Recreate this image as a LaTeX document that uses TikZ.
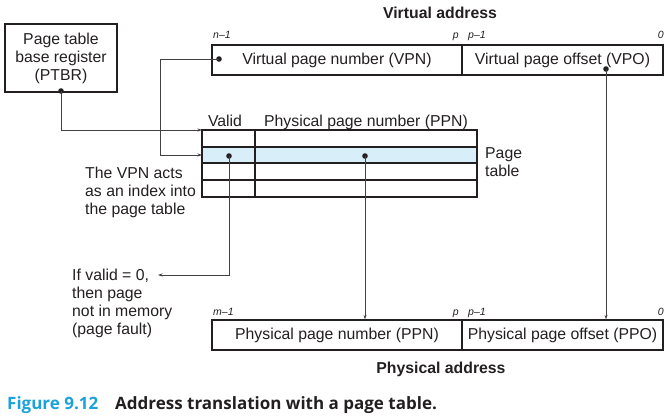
\documentclass[tikz,border=0pt]{standalone}
\usepackage{fontspec}
\setmainfont{Liberation Sans}
\newfontfamily\capfont{Open Sans}
\usepackage{xcolor}
\usepackage{tikz}
\usetikzlibrary{calc}
\usetikzlibrary{arrows.meta}
\definecolor{ink}{HTML}{231F20}
\definecolor{rowblue}{HTML}{D8EEF8}
\definecolor{capblue}{HTML}{1BA1DB}

\begin{document}
\begin{tikzpicture}[x=1pt,y=-1pt,
		txt/.style={font=\fontsize{15.8}{18}\selectfont,text=ink,inner sep=0pt},
		regbox/.style={txt,draw=ink,line width=1.1pt},
		bitno/.style={font=\fontsize{10.5}{12}\selectfont\itshape,text=ink,inner sep=0pt},
		title/.style={font=\fontsize{15.8}{18}\selectfont\bfseries,text=ink,inner sep=0pt},
		wire/.style={draw=ink!85,line width=0.7pt},
		tip/.style={wire,-{Stealth[length=4.5pt,width=3pt]}}]
		\def\cz{2.8pt}
		\useasboundingbox (0,0) rectangle (670,420);
		% registers
		\node[regbox,align=center,minimum width=112pt,minimum height=68pt] (ptbr) at (61,58)
			{Page table\\base register\\(PTBR)};
		\node[regbox,minimum width=250pt,minimum height=30pt] (vpn) at (337,60) {Virtual page number (VPN)};
		\node[regbox,minimum width=201pt,minimum height=30pt] (vpo) at (562.5,60) {Virtual page offset (VPO)};
		\node[regbox,minimum width=250pt,minimum height=30pt] (ppn) at (337,335) {Physical page number (PPN)};
		\node[regbox,minimum width=201pt,minimum height=30pt] (ppo) at (562.5,335) {Physical page offset (PPO)};
		\node[title] (va) at (440,13) {Virtual address};
		\node[title] (pa) at (441,369) {Physical address};
		% bit numbers
		\node[bitno,anchor=base west] (vhi) at (213,39) {n--1};
		\node[bitno,anchor=base east] (vp) at (459,39) {p};
		\node[bitno,anchor=base west] (vpm) at (468,39) {p--1};
		\node[bitno,anchor=base east] (vlo) at (664,39) {0};
		\node[bitno,anchor=base west] (phi) at (213,315) {m--1};
		\node[bitno,anchor=base east] (pp) at (459,315) {p};
		\node[bitno,anchor=base west] (ppm) at (468,315) {p--1};
		\node[bitno,anchor=base east] (plo) at (664,315) {0};
		% page table
		\fill [rowblue] (202,147) rectangle (477,163);
		\draw [ink,line width=1.1pt] (202,130) rectangle (477,197)
			  (202,147) -- (477,147)
			  (202,163) -- (477,163)
			  (202,180) -- (477,180)
			  (255,130) -- (255,197);
		\node[txt,anchor=base] (valid) at (225,127) {Valid};
		\node[txt,anchor=base] (ppnhead) at (366,127) {Physical page number (PPN)};
		\node[txt,align=left,anchor=north west] (ptlabel) at (485,147) {Page\\table};
		\node[txt,align=left,anchor=north west] (index) at (85,167) {The VPN acts\\as an index into\\the page table};
		\node[txt,align=left,anchor=north west] (fault) at (72,269) {If valid = 0,\\then page\\not in memory\\(page fault)};
		% dots and ends
		\coordinate (ptbrdot) at (61,91);
		\coordinate (vpndot) at (219,59);
		\coordinate (vpodot) at (606,69);
		\coordinate (validdot) at (229,156);
		\coordinate (ppndot) at (365,156);
		\coordinate (tabtop) at (202,130);
		\coordinate (tabrow) at (202,155);
		\coordinate (bend) at (160,59);
		\coordinate (faultend) at (158,275);
		\fill [ink] (ptbrdot) circle (\cz)
			  (vpndot) circle (\cz)
			  (vpodot) circle (\cz)
			  (validdot) circle (\cz)
			  (ppndot) circle (\cz);
		% connectors
		\draw [tip] (ptbrdot) |- (tabtop);
		\draw [tip] (vpndot) -- (bend) |- (tabrow);
		\draw [tip] (validdot) |- (faultend);
		\draw [tip] (ppndot) -- (ppndot |- ppn.north);
		\draw [tip] (vpodot) -- (vpodot |- ppo.north);
		% caption
		\node[anchor=base west,inner sep=0pt,font=\capfont\bfseries\fontsize{17}{18}\selectfont,text=capblue] (fig) at (7,409) {Figure 9.12};
		\node[anchor=base west,inner sep=0pt,font=\capfont\bfseries\fontsize{17}{18}\selectfont,text=ink] (cap) at (115,409) {Address translation with a page table.};
	\end{tikzpicture}
\end{document}
